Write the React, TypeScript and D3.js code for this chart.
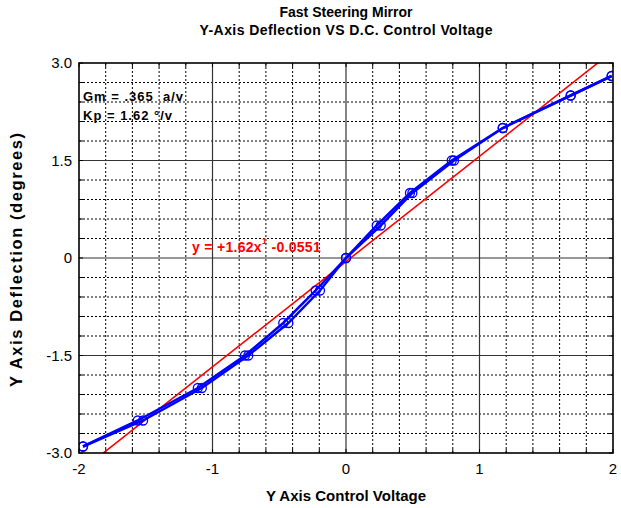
import React from "react";
import * as d3 from "d3";

const deflection = [-2.9, -2.5, -2.0, -1.5, -1.0, -0.5, 0, 0.5, 1.0, 1.5, 2.0, 2.5, 2.8];
const voltageSweepA = [-1.97, -1.56, -1.11, -0.757, -0.47, -0.227, 0, 0.23, 0.479, 0.792, 1.174, 1.683, 1.99];
const voltageSweepB = [-1.97, -1.52, -1.08, -0.732, -0.432, -0.195, 0, 0.26, 0.497, 0.809, 1.174, 1.683, 1.99];
const fitSlope = 1.62;
const fitIntercept = -0.0551;
const xTicks = [-2, -1, 0, 1, 2];
const yTicks = [-3, -1.5, 0, 1.5, 3];
const yTickLabels = ["-3.0", "-1.5", "0", "1.5", "3.0"];

const W = 621, H = 508;
const L = 79, R = 613, T = 63, B = 453;
const FONT = "'Liberation Sans', Arial, Helvetica, sans-serif";

export default function App() {
  const x = d3.scaleLinear().domain([-2, 2]).range([L, R]);
  const y = d3.scaleLinear().domain([-3, 3]).range([B, T]);
  const minorX = d3.range(-2, 2.0001, 0.2).map((v) => +v.toFixed(2));
  const minorY = d3.range(-3, 3.0001, 0.3).map((v) => +v.toFixed(2));
  const isMajorX = (v: number) => Math.abs(v - Math.round(v)) < 1e-6;
  const isMajorY = (v: number) => Math.abs(v / 1.5 - Math.round(v / 1.5)) < 1e-6;

  const line = d3.line<[number, number]>().x((d) => x(d[0])).y((d) => y(d[1]));
  const seriesA: [number, number][] = voltageSweepA.map((v, i) => [v, deflection[i]]);
  const seriesB: [number, number][] = voltageSweepB.map((v, i) => [v, deflection[i]]);
  const fitPts: [number, number][] = [-2, 2].map((v) => [v, fitSlope * v + fitIntercept]);

  return (
    <svg width={W} height={H} style={{ position: "absolute", left: 0, top: 0 }} fontFamily={FONT}>
      <rect x={0} y={0} width={W} height={H} fill="white" />
      <defs>
        <clipPath id="plot">
          <rect x={L} y={T} width={R - L} height={B - T} />
        </clipPath>
      </defs>
      {minorX.filter((v) => !isMajorX(v)).map((v) => (
        <line key={"mx" + v} x1={x(v)} x2={x(v)} y1={T} y2={B} stroke="#000" strokeWidth={1} strokeDasharray="2,2" />
      ))}
      {minorY.filter((v) => !isMajorY(v)).map((v) => (
        <line key={"my" + v} x1={L} x2={R} y1={y(v)} y2={y(v)} stroke="#000" strokeWidth={1} strokeDasharray="2,2" />
      ))}
      {[-1, 0, 1].map((v) => (
        <line key={"gx" + v} x1={x(v)} x2={x(v)} y1={T} y2={B} stroke="#333" strokeWidth={1.2} />
      ))}
      {[-1.5, 0, 1.5].map((v) => (
        <line key={"gy" + v} x1={L} x2={R} y1={y(v)} y2={y(v)} stroke="#333" strokeWidth={1.2} />
      ))}
      {minorX.map((v) => (
        <g key={"tx" + v}>
          <line x1={x(v)} x2={x(v)} y1={B} y2={B - 4} stroke="#000" />
          <line x1={x(v)} x2={x(v)} y1={T} y2={T + 4} stroke="#000" />
        </g>
      ))}
      {minorY.map((v) => (
        <g key={"ty" + v}>
          <line x1={L} x2={L + 4} y1={y(v)} y2={y(v)} stroke="#000" />
          <line x1={R} x2={R - 4} y1={y(v)} y2={y(v)} stroke="#000" />
        </g>
      ))}
      <g clipPath="url(#plot)">
        <path d={line(fitPts) || ""} stroke="#ff0000" strokeWidth={1.6} fill="none" />
        <path d={line(seriesA) || ""} stroke="#0000ff" strokeWidth={2.5} fill="none" />
        <path d={line(seriesB) || ""} stroke="#0000ff" strokeWidth={2.5} fill="none" />
        {[...seriesA, ...seriesB].map((d, i) => (
          <circle key={"c" + i} cx={x(d[0])} cy={y(d[1])} r={4.5} stroke="#0000ff" strokeWidth={1.3} fill="none" />
        ))}
      </g>
      <rect x={L} y={T} width={R - L} height={B - T} fill="none" stroke="#000" strokeWidth={1.6} />
      {xTicks.map((v) => (
        <text key={"xl" + v} x={x(v)} y={B + 21} textAnchor="middle" fontSize={15} fill="#000">
          {v}
        </text>
      ))}
      {yTicks.map((v, i) => (
        <text key={"yl" + v} x={L - 7} y={y(v) + 5} textAnchor="end" fontSize={15} fill="#000">
          {yTickLabels[i]}
        </text>
      ))}
      <text x={(L + R) / 2} y={17} textAnchor="middle" fontSize={14} fontWeight="bold">
        Fast Steering Mirror
      </text>
      <text x={(L + R) / 2} y={35} textAnchor="middle" fontSize={14} fontWeight="bold" textLength={293} lengthAdjust="spacing">
        Y-Axis Deflection VS D.C. Control Voltage
      </text>
      <text x={(L + R) / 2} y={501} textAnchor="middle" fontSize={15} fontWeight="bold" textLength={160} lengthAdjust="spacing">
        Y Axis Control Voltage
      </text>
      <text transform={`translate(22, ${(T + B) / 2 + 2}) rotate(-90)`} textAnchor="middle" fontSize={16.5} fontWeight="bold" textLength={254} lengthAdjust="spacing">
        Y Axis Deflection (degrees)
      </text>
      <text x={83} y={101} fontSize={13} fontWeight="bold" fill="#000" letterSpacing={1} style={{ whiteSpace: "pre" }}>
        {"Gm = .365  a/v"}
      </text>
      <text x={83} y={120} fontSize={13} fontWeight="bold" fill="#000" letterSpacing={1}>
        Kp = 1.62 °/v
      </text>
      <text x={192} y={252} fontSize={14} fontWeight="bold" fill="#ff0000" letterSpacing={0.3}>
        <tspan>y = +1.62x</tspan>
        <tspan dy={-8} fontSize={9}>1</tspan>
        <tspan dy={8}> -0.0551</tspan>
      </text>
    </svg>
  );
}
